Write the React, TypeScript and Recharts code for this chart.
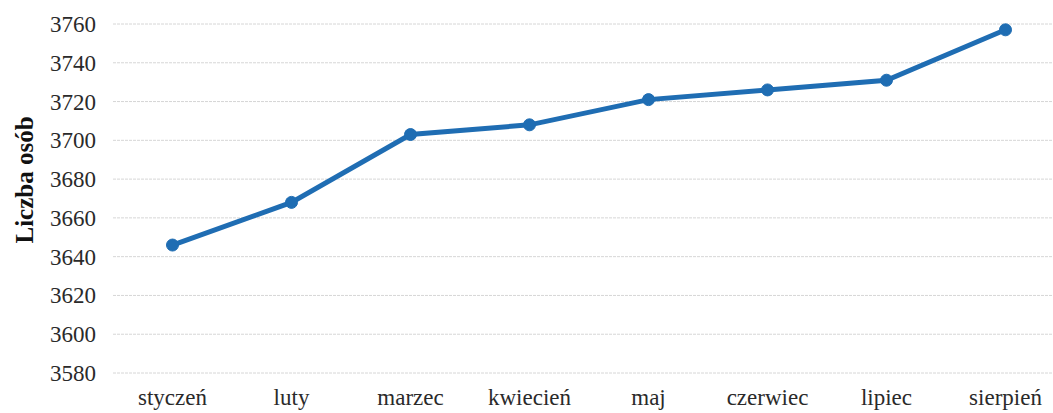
import { LineChart, Line, XAxis, YAxis, CartesianGrid } from 'recharts'

const months = ['styczeń', 'luty', 'marzec', 'kwiecień', 'maj', 'czerwiec', 'lipiec', 'sierpień']
const people = [3646, 3668, 3703, 3708, 3721, 3726, 3731, 3757]
const yTicks = [3580, 3600, 3620, 3640, 3660, 3680, 3700, 3720, 3740, 3760]

const data = months.map((m, i) => ({ month: m, value: people[i] }))

const font = '"Liberation Serif", "Times New Roman", serif'
const blue = '#1f6db3'
const textColor = '#2a2a2a'

const renderXTick = (props: any) => {
  const { x, y, payload } = props
  return (
    <text x={x} y={y} dy={14} textAnchor="middle" fill={textColor} fontFamily={font} fontSize={23}>
      {payload.value}
    </text>
  )
}

const renderYTick = (props: any) => {
  const { x, y, payload } = props
  return (
    <text x={x} y={y} dy={8} textAnchor="end" fill={textColor} fontFamily={font} fontSize={23}>
      {payload.value}
    </text>
  )
}

export default function App() {
  return (
    <div style={{ position: 'absolute', left: 0, top: 0, width: 1053, height: 413, overflow: 'hidden', background: '#fff', fontFamily: font }}>
      <LineChart width={1066} height={413} data={data} margin={{ top: 24, right: 1, bottom: 0, left: 0 }}>
        <CartesianGrid vertical={false} stroke="#d6d6d6" strokeDasharray="3 1" />
        <XAxis
          dataKey="month"
          axisLine={false}
          tickLine={false}
          tickSize={0}
          tickMargin={18}
          height={40}
          padding={{ left: 59.5, right: 59.5 }}
          interval={0}
          tick={renderXTick}
        />
        <YAxis
          domain={[3580, 3760]}
          ticks={yTicks}
          width={113}
          axisLine={false}
          tickLine={false}
          tickSize={0}
          tickMargin={17}
          tick={renderYTick}
          label={() => (
            <text
              x={33}
              y={180}
              transform="rotate(-90 33 180)"
              textAnchor="middle"
              fill="#111"
              fontFamily={font}
              fontSize={25}
              fontWeight="bold"
            >
              Liczba osób
            </text>
          )}
        />
        <Line
          type="linear"
          dataKey="value"
          stroke={blue}
          strokeWidth={5}
          dot={{ r: 6, fill: blue, stroke: blue, strokeWidth: 1 }}
          isAnimationActive={false}
        />
      </LineChart>
    </div>
  )
}
